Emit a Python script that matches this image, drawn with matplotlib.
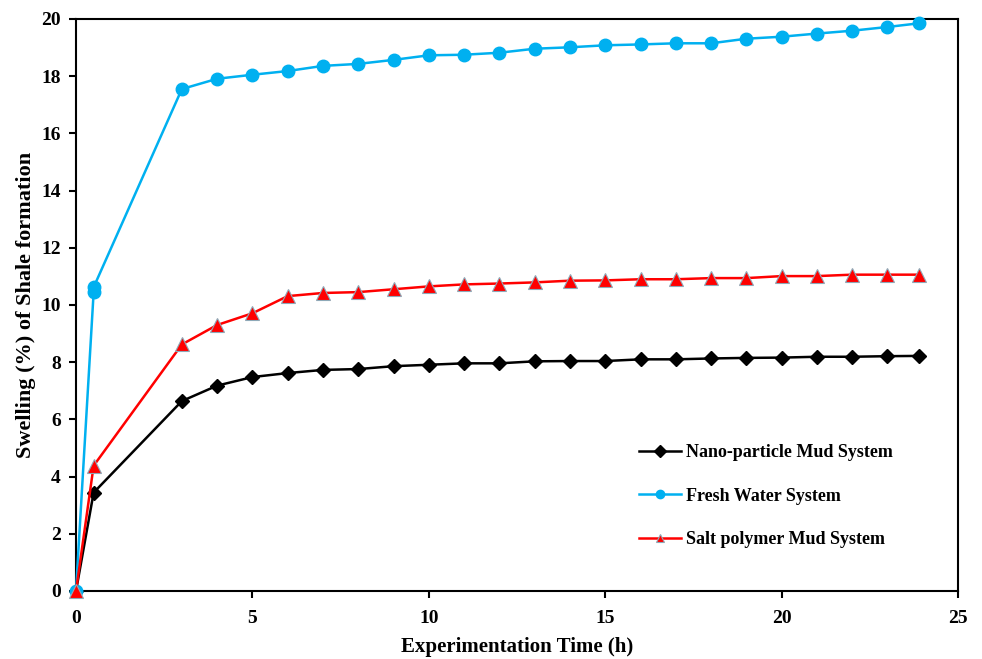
import matplotlib
matplotlib.use('Agg')
import matplotlib.pyplot as plt

# experiment times (h)
time = [0, 0.5, 3, 4, 5, 6, 7, 8, 9, 10, 11, 12, 13, 14, 15, 16, 17, 18, 19, 20, 21, 22, 23, 23.9]
time_fresh = [0, 0.5, 0.5, 3, 4, 5, 6, 7, 8, 9, 10, 11, 12, 13, 14, 15, 16, 17, 18, 19, 20, 21, 22, 23, 23.9]

nano = [0, 3.44, 6.64, 7.18, 7.48, 7.62, 7.73, 7.76, 7.86, 7.91, 7.96, 7.96, 8.03, 8.04,
        8.04, 8.10, 8.10, 8.13, 8.15, 8.16, 8.19, 8.19, 8.21, 8.22]
fresh = [0, 10.45, 10.62, 17.55, 17.91, 18.05, 18.18, 18.36, 18.43, 18.57, 18.73, 18.75, 18.82,
         18.96, 19.01, 19.08, 19.11, 19.15, 19.15, 19.31, 19.38, 19.49, 19.59, 19.72, 19.85]
salt = [0, 4.38, 8.62, 9.30, 9.71, 10.31, 10.42, 10.45, 10.55, 10.65, 10.72, 10.75, 10.79,
        10.85, 10.86, 10.90, 10.90, 10.94, 10.94, 11.01, 11.01, 11.06, 11.06, 11.06]

serif = 'Liberation Serif'

fig = plt.figure(figsize=(9.82, 6.59), dpi=100)
ax = fig.add_axes([0.0774, 0.1032, 0.8982, 0.868])

ax.plot(time, nano, color='black', lw=1.8, marker='D', ms=7.5, mec='black',
        label='Nano-particle Mud System', clip_on=False, zorder=3)
ax.plot(time_fresh, fresh, color='#00b0f0', lw=1.8, marker='o', ms=9, mec='#00b0f0',
        label='Fresh Water System', clip_on=False, zorder=3)
ax.plot(time, salt, color='#ff0000', lw=1.8, marker='^', ms=10, mec='#8ea9b8', mew=0.8,
        label='Salt polymer Mud System', clip_on=False, zorder=3)

ax.set_xlim(0, 25)
ax.set_ylim(0, 20)
ax.set_xticks(range(0, 26, 5))
ax.set_yticks(range(0, 21, 2))

for s in ax.spines.values():
    s.set_linewidth(1.5)
    s.set_color('black')
ax.tick_params(direction='out', length=5, width=1.5, top=False, right=False)
ax.tick_params(axis='x', pad=9)
ax.tick_params(axis='y', pad=6)
for lab in ax.get_xticklabels() + ax.get_yticklabels():
    lab.set_fontfamily(serif)
    lab.set_fontsize(14)
    lab.set_fontweight('bold')

ax.set_xlabel('Experimentation Time (h)', fontfamily=serif, fontsize=15, fontweight='bold', labelpad=7)
ax.set_ylabel('Swelling (%) of Shale formation', fontfamily=serif, fontsize=16, fontweight='bold', labelpad=4)

leg = ax.legend(loc='lower right', bbox_to_anchor=(0.945, 0.047), frameon=False,
                handlelength=2.3, labelspacing=1.45, handletextpad=0.3,
                prop={'family': serif, 'size': 13, 'weight': 'bold'})
for h in leg.legend_handles:
    h.set_markersize(6)

plt.savefig('out.png', dpi=100)
